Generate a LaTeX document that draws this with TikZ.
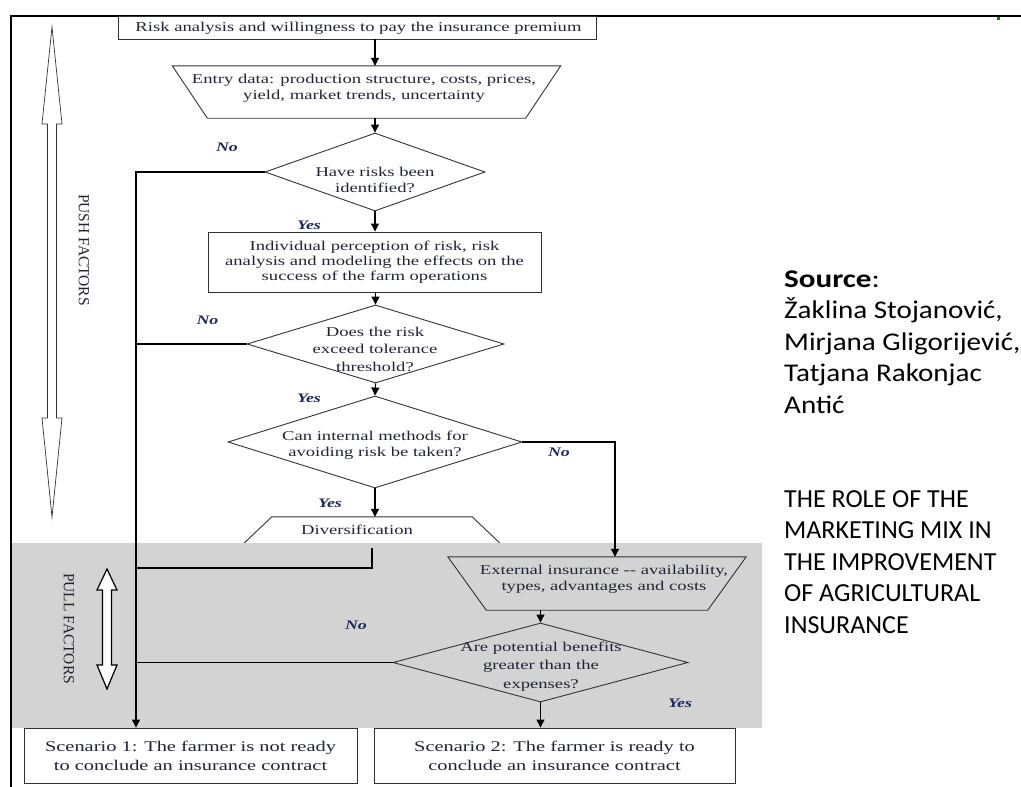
\documentclass[tikz,border=0pt]{standalone}
\usepackage{fontspec}
\usetikzlibrary{shapes.geometric,arrows.meta}
\newfontfamily\flowfont[FakeStretch=1.38]{Liberation Serif}
\newfontfamily\plainserif{Liberation Serif}
\newfontfamily\sidefont{Carlito}
\newfontfamily\authfont[FakeStretch=1.14]{Carlito}
\newfontfamily\srcfont[FakeStretch=1.22]{Carlito}

\definecolor{txtcol}{RGB}{35,35,55}
\definecolor{lblcol}{RGB}{30,40,95}
\definecolor{edgecol}{RGB}{50,50,50}
\definecolor{pullbg}{RGB}{211,211,211}

\tikzset{
  flowtxt/.style={font=\flowfont\fontsize{13.5}{16}\selectfont, text=txtcol, align=center, inner sep=0pt},
  scentxt/.style={font=\flowfont\fontsize{14.8}{19}\selectfont, text=txtcol, align=center, inner sep=0pt},
  yesno/.style={font=\flowfont\bfseries\itshape\fontsize{13}{15}\selectfont, text=lblcol, inner sep=0pt},
  boxshape/.style={rectangle, draw=edgecol, line width=0.9pt, inner sep=0pt},
  area/.style={rectangle, inner sep=0pt},
  outline/.style={draw=edgecol, line width=0.9pt},
  diam/.style={diamond, draw=edgecol, line width=0.9pt, inner sep=0pt},
  link/.style={draw=black, line width=1.1pt},
  arr/.style={link, -{Triangle[length=8pt,width=8pt]}},
  factor/.style={font=\plainserif\fontsize{15.5}{18}\selectfont, text=txtcol, inner sep=0pt, rotate=-90},
  side/.style={font=\sidefont\fontsize{26}{30}\selectfont, text=black, inner sep=0pt, anchor=base west},
  author/.style={side, font=\authfont\fontsize{25.5}{30}\selectfont},
  frameline/.style={draw=black, line width=1.5pt},
}

\begin{document}
\begin{tikzpicture}[x=1pt,y=-1pt]
\useasboundingbox (0,0) rectangle (1021,787);

% Diversification sits partly under the pull-factor band
\node[area, minimum width=266pt, minimum height=31pt] (div) at (372,532.5) {};
\draw[outline, fill=white] ([xshift=33pt]div.north west) -- ([xshift=-33pt]div.north east)
  -- (div.south east) -- (div.south west) -- cycle;
\node[flowtxt] (divt) at (357,530) {Diversification};

% pull-factor band
\fill[pullbg] (12,543) rectangle (762,728);

% outer frame
\draw[frameline] (11,787) -- (11,16) -- (1021,16);
\fill[green!55!black] (997,17) rectangle (999.5,19.5);

% push-factor double arrow
\draw[draw=edgecol, line width=0.7pt, fill=white]
  (52,27) -- (62,124) -- (56.5,124) -- (56.5,418) -- (62,418) -- (52,517)
  -- (42,418) -- (47.5,418) -- (47.5,124) -- (42,124) -- cycle;
\node[factor] (push) at (84,250) {PUSH FACTORS};

% pull-factor double arrow
\draw[draw=black, line width=1.2pt, fill=white]
  (107,569) -- (117,590) -- (111.5,590) -- (111.5,665) -- (117,665) -- (107,689)
  -- (97,665) -- (102.5,665) -- (102.5,590) -- (97,590) -- cycle;
\node[factor] (pull) at (69,628.5) {PULL FACTORS};

% flow nodes
\node[boxshape, minimum width=478pt, minimum height=23pt, fill=white] (top) at (357,27.5) {};
\node[flowtxt] (topt) at (358.5,28) {Risk analysis and willingness to pay the insurance premium};

\node[area, minimum width=388pt, minimum height=52pt] (entry) at (366.5,92) {};
\draw[outline] (entry.north west) -- (entry.north east)
  -- ([xshift=-35pt]entry.south east) -- ([xshift=35pt]entry.south west) -- cycle;
\node[flowtxt] (entryt) at (364,88) {Entry data: production structure, costs, prices,\\yield, market trends, uncertainty};

\node[diam, minimum width=220pt, minimum height=78pt] (d1) at (375,172) {};
\node[flowtxt] (d1t) at (375,180) {Have risks been\\identified?};

\node[boxshape, minimum width=333pt, minimum height=60pt, flowtxt, font=\flowfont\fontsize{13.5}{15}\selectfont] (box2) at (374.5,262)
  {Individual perception of risk, risk\\analysis and modeling the effects on the\\success of the farm operations};

\node[diam, minimum width=257pt, minimum height=78pt] (d2) at (375.5,344) {};
\node[flowtxt, font=\flowfont\fontsize{13.5}{17.5}\selectfont] (d2t) at (375,349) {Does the risk\\exceed tolerance\\threshold?};

\node[diam, minimum width=294pt, minimum height=92pt] (d3) at (375,442) {};
\node[flowtxt] (d3t) at (375,445) {Can internal methods for\\avoiding risk be taken?};

\node[area, minimum width=298pt, minimum height=53pt] (ext) at (597,583.5) {};
\draw[outline] (ext.north west) -- (ext.north east)
  -- ([xshift=-38.5pt]ext.south east) -- ([xshift=38.5pt]ext.south west) -- cycle;
\node[flowtxt] (extt) at (604,579.5) {External insurance -- availability,\\types, advantages and costs};

\node[diam, minimum width=295pt, minimum height=79pt] (d4) at (540.5,662.5) {};
\node[flowtxt, font=\flowfont\fontsize{13.5}{18.5}\selectfont] (d4t) at (541,666.5) {Are potential benefits\\greater than the\\expenses?};

\node[boxshape, minimum width=333pt, minimum height=55pt, fill=white, scentxt] (sc1) at (190.5,755.5)
  {Scenario 1: The farmer is not ready\\to conclude an insurance contract};
\node[boxshape, minimum width=361pt, minimum height=55pt, fill=white, scentxt] (sc2) at (554.5,755.5)
  {Scenario 2: The farmer is ready to\\conclude an insurance contract};

% decision labels
\node[yesno] (no1) at (227,147) {No};
\node[yesno] (yes1) at (309,225) {Yes};
\node[yesno] (no2) at (207.5,320) {No};
\node[yesno] (yes2) at (309,398) {Yes};
\node[yesno] (no3) at (559,452) {No};
\node[yesno] (yes3) at (330,503) {Yes};
\node[yesno] (no4) at (356,625) {No};
\node[yesno] (yes4) at (680,703) {Yes};

% connectors
\coordinate (rail) at (136,0);
\coordinate (divj) at (372,568);

\draw[arr] (top.south -| d1.north) -- (entry.north -| d1.north);
\draw[arr] (entry.south -| d1.north) -- (d1.north);
\draw[arr] (d1.south) -- (box2.north -| d1.south);
\draw[arr] (box2.south -| d2.north) -- (d2.north);
\draw[arr] (d2.south) -- (d3.north);
\draw[arr] (d3.south) -- (div.north -| d3.south);
\draw[arr] (d1.west) -| (rail |- sc1.north);
\draw[link] (d2.west) -- (d2.west -| rail);
\draw[arr] (d3.east) -| ([xshift=18pt]ext.north);
\draw[link] (div.south) -- (divj) -- (divj -| rail);
\draw[arr] (d4.north |- ext.south) -- (d4.north);
\draw[link] (d4.west) -- (d4.west -| rail);
\draw[arr] (d4.south) -- (sc2.north -| d4.south);

% source note
\node[side, font=\srcfont\fontsize{25.5}{30}\selectfont] (src) at (784,287) {\textbf{Source}:};
\node[author] (au1) at (784,318.5) {Žaklina Stojanović,};
\node[author] (au2) at (784,350) {Mirjana Gligorijević,};
\node[author] (au3) at (784,381.5) {Tatjana Rakonjac};
\node[author] (au4) at (784,413) {Antić};
\node[side] (ti1) at (784,507) {THE ROLE OF THE};
\node[side] (ti2) at (784,538.5) {MARKETING MIX IN};
\node[side] (ti3) at (784,570) {THE IMPROVEMENT};
\node[side] (ti4) at (784,601.5) {OF AGRICULTURAL};
\node[side] (ti5) at (784,633) {INSURANCE};
\end{tikzpicture}
\end{document}
